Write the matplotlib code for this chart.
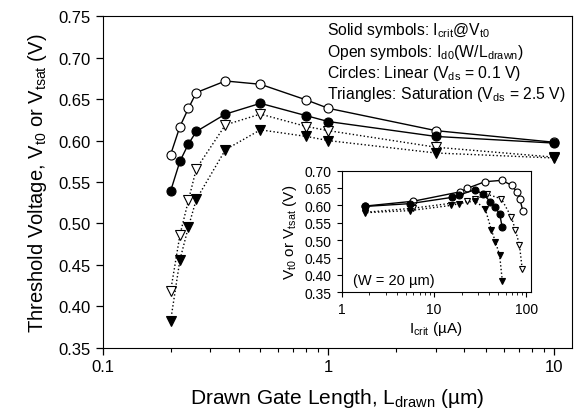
import numpy as np
import matplotlib
matplotlib.use('Agg')
import matplotlib.pyplot as plt
from matplotlib.ticker import FixedLocator, FormatStrFormatter, LogLocator, NullFormatter

plt.rcParams['font.family'] = ['Liberation Sans', 'DejaVu Sans']
plt.rcParams['mathtext.fontset'] = 'custom'
plt.rcParams['mathtext.rm'] = 'Liberation Sans'
plt.rcParams['mathtext.it'] = 'Liberation Sans:italic'

# drawn gate length (um)
l_drawn = [0.2, 0.22, 0.24, 0.26, 0.35, 0.5, 0.8, 1.0, 3.0, 10.0]

# threshold voltages (V)
vt_lin_crit = [0.539, 0.575, 0.596, 0.611, 0.632, 0.645, 0.630, 0.623, 0.605, 0.597]
vt_lin_d0   = [0.583, 0.617, 0.639, 0.658, 0.672, 0.668, 0.649, 0.639, 0.612, 0.598]
vt_sat_crit = [0.382, 0.456, 0.496, 0.529, 0.589, 0.613, 0.605, 0.600, 0.585, 0.579]
vt_sat_d0   = [0.418, 0.486, 0.528, 0.566, 0.619, 0.632, 0.617, 0.612, 0.592, 0.580]

# inset currents (uA), W = 20 um
i_lin_crit = [54.8, 51.7, 45.6, 40.9, 34.1, 28.1, 18.8, 15.7, 5.5, 1.8]
i_sat_crit = [55.2, 51.6, 46.4, 42.0, 36.1, 28.1, 18.8, 15.4, 5.5, 1.8]
i_lin_d0   = [92.3, 85.7, 79.0, 69.7, 54.3, 35.7, 23.0, 19.3, 6.0, 1.8]
i_sat_d0   = [90.5, 84.6, 76.6, 69.2, 53.9, 37.7, 27.6, 22.8, 6.0, 1.8]

y_ticks = [0.35, 0.40, 0.45, 0.50, 0.55, 0.60, 0.65, 0.70, 0.75]
inset_y_ticks = [0.35, 0.40, 0.45, 0.50, 0.55, 0.60, 0.65, 0.70]


def draw_series(ax, x_sets, ms):
    x_lc, x_ld, x_sc, x_sd = x_sets
    ax.plot(x_sd, vt_sat_d0, ls=':', c='k', lw=1.0, marker='v', ms=ms, mfc='white', mec='k', mew=0.8)
    ax.plot(x_sc, vt_sat_crit, ls=':', c='k', lw=1.0, marker='v', ms=ms, mfc='k', mec='k', mew=0.8)
    ax.plot(x_ld, vt_lin_d0, ls='-', c='k', lw=1.0, marker='o', ms=ms, mfc='white', mec='k', mew=0.8)
    ax.plot(x_lc, vt_lin_crit, ls='-', c='k', lw=1.0, marker='o', ms=ms, mfc='k', mec='k', mew=0.8)


fig = plt.figure(figsize=(5.8, 4.14), dpi=100)
ax = fig.add_axes([0.177, 0.158, 0.809, 0.8])

draw_series(ax, (l_drawn, l_drawn, l_drawn, l_drawn), 6.5)
ax.set_xscale('log')
ax.set_xlim(0.1, 12)
ax.set_ylim(0.35, 0.75)
ax.yaxis.set_major_locator(FixedLocator(y_ticks))
ax.yaxis.set_major_formatter(FormatStrFormatter('%.2f'))
ax.set_xticks([0.1, 1, 10])
ax.set_xticklabels(['0.1', '1', '10'])
ax.xaxis.set_minor_locator(LogLocator(base=10, subs=np.arange(2, 10)))
ax.xaxis.set_minor_formatter(NullFormatter())
ax.tick_params(axis='both', which='major', labelsize=12, direction='out', length=5, width=0.9)
ax.tick_params(axis='x', which='minor', direction='out', length=3, width=0.8)
ax.set_xlabel('Drawn Gate Length, L$_{\\rm drawn}$ (\u00b5m)', fontsize=15, labelpad=8)
ax.set_ylabel(r'Threshold Voltage, V$_{\rm t0}$ or V$_{\rm tsat}$ (V)', fontsize=14.5, labelpad=7)

notes = [r'Solid symbols: I$_{\rm crit}$@V$_{\rm t0}$',
         r'Open symbols: I$_{\rm d0}$(W/L$_{\rm drawn}$)',
         r'Circles: Linear (V$_{\rm ds}$ = 0.1 V)',
         r'Triangles: Saturation (V$_{\rm ds}$ = 2.5 V)']
for k, s in enumerate(notes):
    fig.text(327/580, 1 - (31 + 21.2*k)/414, s, fontsize=11.3, ha='left', va='center')

# inset
axi = fig.add_axes([0.589, 0.2915, 0.326, 0.294])
draw_series(axi, (i_lin_crit, i_lin_d0, i_sat_crit, i_sat_d0), 5)
axi.set_xscale('log')
axi.set_xlim(1, 112)
axi.set_ylim(0.35, 0.70)
axi.yaxis.set_major_locator(FixedLocator(inset_y_ticks))
axi.yaxis.set_major_formatter(FormatStrFormatter('%.2f'))
axi.set_xticks([1, 10, 100])
axi.set_xticklabels(['1', '10', '100'])
axi.xaxis.set_minor_locator(LogLocator(base=10, subs=np.arange(2, 10)))
axi.xaxis.set_minor_formatter(NullFormatter())
axi.tick_params(axis='both', which='major', labelsize=10, direction='out', length=3.5, width=0.8)
axi.tick_params(axis='x', which='minor', direction='out', length=2, width=0.6)
axi.set_xlabel('I$_{\\rm crit}$ (\u00b5A)', fontsize=11, labelpad=2)
axi.set_ylabel(r'V$_{\rm t0}$ or V$_{\rm tsat}$ (V)', fontsize=11, labelpad=4)
axi.text(0.06, 0.1, '(W = 20 \u00b5m)', transform=axi.transAxes, fontsize=10.5, ha='left', va='center')

fig.savefig('out.png', dpi=100)
